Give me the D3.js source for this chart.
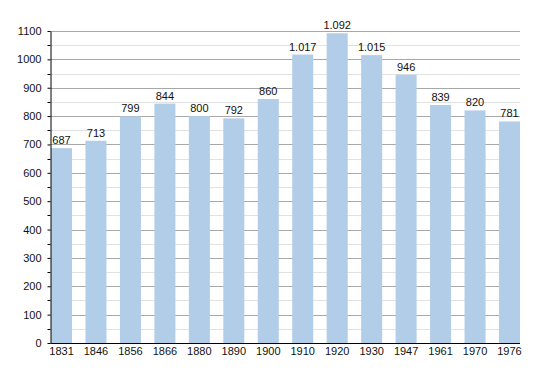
<!DOCTYPE html>
<html>
<head>
<meta charset="utf-8">
<script src="https://cdn.jsdelivr.net/npm/d3@7"></script>
<style>
  body { margin: 0; background: #fff; }
  text { font-family: "Liberation Sans", Arial, sans-serif; }
</style>
</head>
<body>
<script>
// population per census year
var years = ["1831", "1846", "1856", "1866", "1880", "1890", "1900", "1910", "1920", "1930", "1947", "1961", "1970", "1976"];
var population = [687, 713, 799, 844, 800, 792, 860, 1017, 1092, 1015, 946, 839, 820, 781];
var yTicks = [0, 100, 200, 300, 400, 500, 600, 700, 800, 900, 1000, 1100];
var yMinor = [50, 150, 250, 350, 450, 550, 650, 750, 850, 950, 1050];

var width = 550, height = 373;
var plotLeft = 50.5, plotRight = 520, plotTop = 31, plotBottom = 343;

var svg = d3.select("body").append("svg")
    .attr("width", width)
    .attr("height", height);

var x = d3.scaleBand()
    .domain(years)
    .range([plotLeft + 0.5, plotRight])
    .paddingInner(0.39)
    .paddingOuter(0);

var y = d3.scaleLinear()
    .domain([0, 1100])
    .range([plotBottom, plotTop]);

// format with dot as thousands separator
var fmt = d3.formatLocale({decimal: ",", thousands: ".", grouping: [3], currency: ["", ""]}).format(",");

// minor grid
svg.append("g").selectAll("line")
    .data(yMinor)
    .enter().append("line")
    .attr("x1", plotLeft).attr("x2", plotRight)
    .attr("y1", function(d) { return Math.round(y(d)) + 0.5; })
    .attr("y2", function(d) { return Math.round(y(d)) + 0.5; })
    .attr("stroke", "#e2e2e2");

// major grid
svg.append("g").selectAll("line")
    .data(yTicks.slice(1))
    .enter().append("line")
    .attr("x1", plotLeft).attr("x2", plotRight)
    .attr("y1", function(d) { return Math.round(y(d)) + 0.5; })
    .attr("y2", function(d) { return Math.round(y(d)) + 0.5; })
    .attr("stroke", "#a8a8a8");

// bars
svg.append("g").selectAll("rect")
    .data(population)
    .enter().append("rect")
    .attr("x", function(d, i) { return x(years[i]); })
    .attr("width", x.bandwidth())
    .attr("y", function(d) { return y(d); })
    .attr("height", function(d) { return y(0) - y(d); })
    .attr("fill", "#b2cde8");

// value labels
svg.append("g").selectAll("text")
    .data(population)
    .enter().append("text")
    .attr("x", function(d, i) { return x(years[i]) + x.bandwidth() / 2; })
    .attr("y", function(d) { return y(d) - 4; })
    .attr("text-anchor", "middle")
    .attr("font-size", "11px")
    .attr("fill", "#111")
    .text(function(d) { return fmt(d); });

// y axis
var yAxis = svg.append("g")
    .attr("transform", "translate(" + plotLeft + ",0)")
    .call(d3.axisLeft(y).tickValues(yTicks).tickFormat(d3.format("d"))
        .tickSize(3).tickSizeOuter(0).tickPadding(6));
yAxis.select(".domain").attr("stroke", "#000");
yAxis.selectAll("text").attr("font-size", "11px").attr("fill", "#111")
    .style("font-family", "'Liberation Sans', Arial, sans-serif");

svg.append("g")
    .attr("transform", "translate(" + plotLeft + ",0)")
    .selectAll("line")
    .data(yMinor)
    .enter().append("line")
    .attr("x1", -3).attr("x2", 0)
    .attr("y1", function(d) { return Math.round(y(d)) + 0.5; })
    .attr("y2", function(d) { return Math.round(y(d)) + 0.5; })
    .attr("stroke", "#000");

// x axis
var xAxis = svg.append("g")
    .attr("transform", "translate(0," + (plotBottom + 0.5) + ")")
    .call(d3.axisBottom(x).tickSize(0).tickPadding(4));
xAxis.select(".domain").attr("stroke", "#000").attr("d", "M" + plotLeft + ",0H" + plotRight);
xAxis.selectAll("text").attr("font-size", "11px").attr("fill", "#111")
    .style("font-family", "'Liberation Sans', Arial, sans-serif");
</script>
</body>
</html>
